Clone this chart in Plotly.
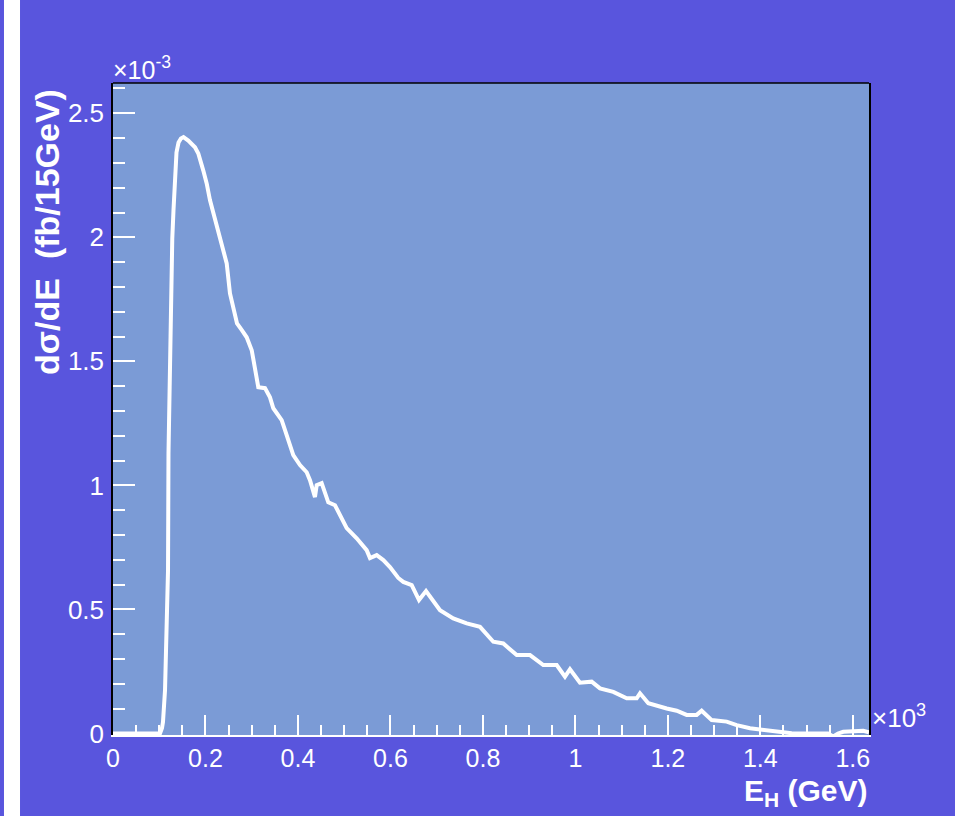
import plotly.graph_objects as go

# Higgs energy E_H in GeV (vertices)
energy_gev = [0, 101.6, 106, 108.1, 112.5, 119, 120, 122.2, 124.4, 126.5, 128.2, 130.8,
              134.1, 137.3, 141.7, 147, 152.5, 162.8, 177.3, 184.5, 195.3, 202.6, 209.8,
              216.9, 227.7, 238.5, 245.9, 253, 260.2, 268.2, 279, 289.1, 300, 303.5,
              310.8, 314.2, 328.7, 339.5, 346.7, 364.8, 372, 389.9, 404.4, 418.9, 426,
              436.8, 440.5, 451.3, 465.6, 480.1, 505.4, 527, 548.6, 555.8, 570.3, 584.6,
              599, 617, 627.8, 646, 661.8, 677, 707.2, 735.9, 764.9, 793.7, 822.5, 844.1,
              873.1, 901.8, 930.6, 959.6, 977.5, 988.3, 1009.9, 1035.2, 1053.2, 1082, 1111,
              1132.6, 1139.7, 1157.7, 1197.5, 1219.1, 1240.7, 1262.3, 1273.1, 1294.8,
              1327.2, 1348.8, 1377.6, 1406.4, 1442.5, 1467.8, 1485.7, 1546.3, 1557.7,
              1568, 1579.3, 1622.6, 1635]

# dsigma/dE in units of 1e-3 fb / 15 GeV
dsigma_e3 = [0, 0, 0.022, 0.046, 0.175, 0.658, 1.130, 1.367, 1.657, 1.814, 1.996, 2.108,
             2.237, 2.342, 2.382, 2.398, 2.404, 2.390, 2.363, 2.338, 2.269, 2.217, 2.149,
             2.096, 2.016, 1.935, 1.895, 1.774, 1.718, 1.653, 1.625, 1.597, 1.545, 1.504,
             1.424, 1.396, 1.392, 1.355, 1.311, 1.263, 1.223, 1.122, 1.082, 1.053, 1.021,
             0.953, 1.001, 1.009, 0.932, 0.920, 0.828, 0.787, 0.739, 0.707, 0.719, 0.699,
             0.671, 0.627, 0.611, 0.598, 0.538, 0.574, 0.497, 0.464, 0.444, 0.430, 0.370,
             0.363, 0.316, 0.316, 0.276, 0.276, 0.229, 0.259, 0.205, 0.209, 0.182, 0.168,
             0.142, 0.142, 0.162, 0.122, 0.101, 0.092, 0.075, 0.075, 0.092, 0.054, 0.048,
             0.034, 0.021, 0.014, 0.007, 0.001, 0, 0, -0.012, 0, 0.007, 0.011, 0.005]

x_tev = [e / 1000.0 for e in energy_gev]

OUTER = "#5955DD"
INNER = "#7B9BD6"
FONT = "Liberation Sans, Arial, Helvetica, sans-serif"

fig = go.Figure()
fig.add_trace(go.Scatter(x=x_tev, y=dsigma_e3, mode="lines",
                         line=dict(color="white", width=4), showlegend=False,
                         hoverinfo="skip"))

fig.update_layout(
    width=955, height=816, autosize=False,
    paper_bgcolor=OUTER, plot_bgcolor=INNER,
    margin=dict(l=113, r=86, t=83, b=81, pad=0),
    font=dict(family=FONT, color="white"),
    xaxis=dict(range=[0, 1.635], tick0=0, dtick=0.2, ticks="inside", ticklen=20,
               tickwidth=1.5, tickcolor="white", showgrid=False, zeroline=False,
               showline=True, linecolor="white", linewidth=1.5,
               tickfont=dict(size=25, color="white", family=FONT),
               minor=dict(dtick=0.05, ticks="inside", ticklen=10, tickwidth=1.5,
                          tickcolor="white", showgrid=False)),
    yaxis=dict(range=[-0.006, 2.622], tick0=0, dtick=0.5, ticks="inside", ticklen=22,
               tickwidth=1.5, tickcolor="white", showgrid=False, zeroline=False,
               showline=True, linecolor="black", linewidth=1.5, mirror=True,
               ticklabelstandoff=2,
               tickfont=dict(size=26, color="white", family=FONT),
               minor=dict(dtick=0.1, ticks="inside", ticklen=12, tickwidth=1.5,
                          tickcolor="white", showgrid=False)),
    shapes=[
        dict(type="line", xref="paper", yref="paper", x0=0, x1=1, y0=1, y1=1,
             line=dict(color="black", width=1.5)),
        dict(type="rect", xref="paper", yref="paper", x0=-0.1442, x1=-0.1230,
             y0=-0.13, y1=1.13, line=dict(width=0), fillcolor="white", layer="above"),
    ],
    annotations=[
        dict(text="dσ/dE  (fb/15GeV)", textangle=-90, xref="paper", yref="paper",
             x=-0.0873, y=0.994, xanchor="center", yanchor="top", showarrow=False,
             font=dict(size=34, color="white", family="Liberation Sans, Arial",
                       weight="bold")),
        dict(text="E<sub>H</sub> (GeV)", xref="paper", yref="paper", x=1.0, y=-0.058,
             xanchor="right", yanchor="top", showarrow=False, borderpad=0,
             font=dict(size=30, color="white", family="Liberation Sans, Arial",
                       weight="bold")),
        dict(text="×10<sup>-3</sup>", xref="paper", yref="paper", x=-0.002, y=1.0,
             xanchor="left", yanchor="bottom", showarrow=False, yshift=-3,
             font=dict(size=25, color="white", family=FONT)),
        dict(text="×10<sup>3</sup>", xref="paper", yref="paper", x=1.0, y=0.0,
             xanchor="left", yanchor="bottom", showarrow=False, xshift=1,
             font=dict(size=26, color="white", family=FONT)),
    ],
)

fig.write_html("out.html")
